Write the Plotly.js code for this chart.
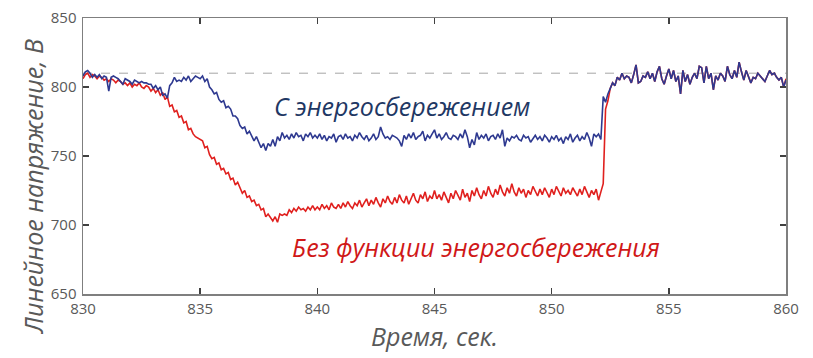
<!DOCTYPE html>
<html>
<head>
<meta charset="utf-8">
<script src="https://cdn.plot.ly/plotly-3.0.1.min.js"></script>
<style>html,body{margin:0;padding:0;background:#fff;}#chart{width:813px;height:358px;}</style>
</head>
<body>
<div id="chart"></div>
<script>
// Time axis: samples every 0.1 s starting at 830 s
const tStart = 830;
const tStep = 0.1;

// Voltage with energy saving (blue), 830.0 ... 860.0
const withSaving = [
  808, 811, 812, 810, 807, 809, 807, 809, 806, 808,
  807, 797, 807, 808, 807, 806, 804, 802, 806, 805,
  804, 802, 805, 804, 803, 804, 803, 803, 802, 802,
  799, 801, 798, 800, 794, 795, 792, 801, 803, 807,
  804, 805, 804, 807, 805, 808, 804, 806, 808, 807,
  806, 808, 804, 806, 800, 798, 795, 796, 791, 789,
  790, 785, 786, 784, 779, 779, 777, 772, 770, 771,
  766, 768, 764, 761, 764, 760, 756, 759, 754, 759,
  757, 762, 757, 764, 761, 767, 763, 765, 762, 766,
  763, 767, 764, 765, 761, 766, 764, 767, 763, 765,
  763, 766, 762, 765, 761, 764, 763, 766, 760, 764,
  765, 762, 766, 763, 764, 761, 765, 763, 767, 764,
  762, 765, 761, 763, 766, 762, 764, 771, 766, 763,
  764, 762, 765, 764, 763, 761, 757, 765, 762, 766,
  763, 767, 762, 764, 765, 768, 761, 765, 763, 766,
  769, 763, 766, 762, 764, 767, 763, 762, 765, 764,
  762, 766, 763, 769, 764, 756, 762, 758, 767, 762,
  765, 763, 766, 761, 764, 765, 762, 766, 763, 769,
  757, 763, 761, 764, 763, 765, 762, 761, 765, 763,
  764, 760, 763, 765, 762, 764, 761, 765, 763, 760,
  764, 762, 765, 761, 763, 759, 764, 762, 766, 760,
  763, 765, 761, 764, 762, 767, 763, 757, 766, 764,
  766, 762, 793, 789, 795, 799, 803, 801, 807, 805,
  810, 806, 808, 807, 803, 809, 816, 803, 804, 808,
  807, 811, 806, 810, 804, 811, 815, 806, 802, 808,
  813, 806, 812, 804, 808, 795, 812, 804, 809, 802,
  807, 810, 806, 815, 814, 803, 815, 806, 810, 798,
  808, 805, 810, 808, 804, 815, 809, 806, 812, 807,
  818, 811, 805, 812, 808, 803, 807, 806, 810, 808,
  806, 804, 808, 812, 809, 810, 807, 805, 807, 800,
  805
];

// Voltage without energy saving (red), 830.0 ... 852.4; afterwards it coincides with the blue curve
const withoutSavingHead = [
  806, 809, 810, 807, 809, 808, 806, 808, 807, 805,
  806, 804, 806, 805, 803, 805, 804, 802, 803, 801,
  803, 800, 802, 801, 803, 800, 799, 801, 800, 797,
  799, 796, 798, 794, 796, 791, 793, 786, 787, 782,
  783, 778, 779, 774, 775, 769, 770, 766, 764, 763,
  762, 761, 756, 757, 751, 748, 749, 744, 745, 740,
  741, 737, 738, 733, 734, 729, 731, 727, 723, 725,
  720, 721, 717, 718, 714, 715, 711, 712, 706, 708,
  705, 703, 706, 702, 708, 707, 708, 707, 711, 709,
  712, 710, 713, 711, 712, 710, 713, 711, 714, 711,
  713, 711, 715, 712, 714, 711, 716, 713, 712, 715,
  712, 716, 713, 717, 714, 712, 716, 714, 718, 713,
  716, 719, 714, 718, 715, 720, 716, 713, 719, 716,
  721, 717, 715, 720, 716, 722, 718, 716, 721, 715,
  719, 723, 718, 716, 722, 719, 724, 717, 721, 719,
  725, 719, 722, 718, 724, 720, 716, 723, 719, 725,
  721, 718, 726, 720, 723, 717, 725, 721, 727, 722,
  719, 725, 721, 728, 723, 720, 726, 722, 729, 724,
  721, 727, 723, 730, 724, 721, 727, 723, 726, 720,
  725, 722, 728, 724, 721, 726, 722, 727, 723, 720,
  726, 722, 728, 724, 721, 727, 723, 725, 722, 727,
  724, 721, 726, 722, 728, 724, 720, 725, 722, 726,
  718, 724, 730, 784, 790
];
const withoutSavingLast = 806;

const referenceLevel = 810;
const xTicks = [830, 835, 840, 845, 850, 855, 860];
const yTicks = [650, 700, 750, 800, 850];

const labelWith = 'С энергосбережением';
const labelWithout = 'Без функции энергосбережения';
const xTitle = 'Время, сек.';
const yTitle = 'Линейное напряжение, В';

const time = withSaving.map((_, i) => +(tStart + i * tStep).toFixed(1));
const withoutSaving = withoutSavingHead.concat(withSaving.slice(withoutSavingHead.length));
withoutSaving[withoutSaving.length - 1] = withoutSavingLast;

const traces = [
  {x: time, y: withoutSaving, type: 'scatter', mode: 'lines', name: labelWithout,
   line: {color: '#E0201E', width: 1.6}},
  {x: time, y: withSaving, type: 'scatter', mode: 'lines', name: labelWith,
   line: {color: '#2E3990', width: 1.6}}
];

const axisCommon = {
  showgrid: false, zeroline: false, showline: true, linecolor: '#7F7F7F', linewidth: 1.5,
  mirror: 'ticks', ticks: 'inside', ticklen: 6, tickwidth: 1.5, tickcolor: '#404040',
  tickfont: {family: 'Open Sans, sans-serif', size: 15, color: '#595959'}
};

const layout = {
  width: 813, height: 358,
  margin: {l: 83, r: 27, t: 18, b: 64},
  paper_bgcolor: '#fff', plot_bgcolor: '#fff',
  showlegend: false,
  xaxis: Object.assign({}, axisCommon, {
    range: [830, 860], tickvals: xTicks, ticktext: xTicks.map(String),
    title: {text: xTitle, font: {family: 'Open Sans, sans-serif', size: 25, color: '#595959', style: 'italic'}, standoff: 12}
  }),
  yaxis: Object.assign({}, axisCommon, {
    range: [650, 850], tickvals: yTicks, ticktext: yTicks.map(String), ticklabelstandoff: 2
  }),
  shapes: [{type: 'line', xref: 'paper', x0: 0, x1: 1, yref: 'y', y0: referenceLevel, y1: referenceLevel,
    line: {color: '#A6A6A6', width: 1, dash: 'dash'}, layer: 'below'}],
  annotations: [
    {text: labelWith, xref: 'x', yref: 'y', x: 843.6, y: 786, showarrow: false,
     font: {family: 'Open Sans, sans-serif', size: 25, color: '#1F3864', style: 'italic'}},
    {text: labelWithout, xref: 'x', yref: 'y', x: 846.75, y: 684, showarrow: false,
     font: {family: 'Open Sans, sans-serif', size: 25, color: '#D01818', style: 'italic'}},
    {text: yTitle, xref: 'paper', yref: 'paper', x: -0.07, y: 0.39, xanchor: 'center', yanchor: 'middle',
     textangle: -90, showarrow: false,
     font: {family: 'Open Sans, sans-serif', size: 25, color: '#595959', style: 'italic'}}
  ]
};

Plotly.newPlot('chart', traces, layout, {displayModeBar: false, staticPlot: true});
</script>
</body>
</html>
